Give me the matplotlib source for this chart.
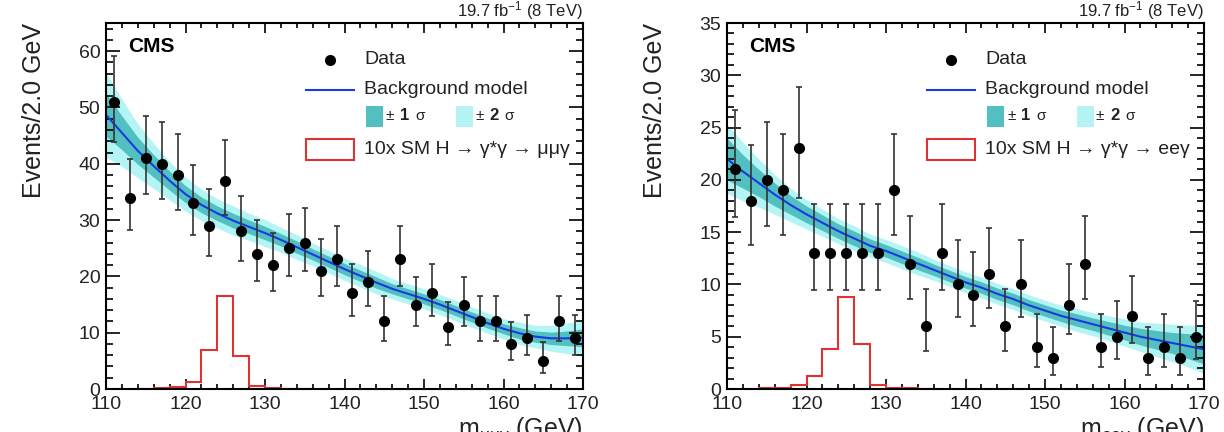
import numpy as np
import matplotlib
matplotlib.use("Agg")
import matplotlib.pyplot as plt
from matplotlib.patches import Rectangle
from matplotlib.lines import Line2D
from matplotlib.ticker import MultipleLocator

plt.rcParams['font.family'] = ['Liberation Sans', 'DejaVu Sans']
plt.rcParams['mathtext.fontset'] = 'custom'
plt.rcParams['mathtext.rm'] = 'Liberation Sans'
plt.rcParams['mathtext.it'] = 'Liberation Sans:italic'
plt.rcParams['mathtext.bf'] = 'Liberation Sans:bold'

# data points (bin centres, counts)
mass = np.arange(111, 170, 2)
data_mumu = [51, 34, 41, 40, 38, 33, 29, 37, 28, 24, 22, 25, 26, 21, 23,
             17, 19, 12, 23, 15, 17, 11, 15, 12, 12, 8, 9, 5, 12, 9]
data_ee = [21, 18, 20, 19, 23, 13, 13, 13, 13, 13, 19, 12, 6, 13, 10,
           9, 11, 6, 10, 4, 3, 8, 12, 4, 5, 7, 3, 4, 3, 5]

# background model, sampled every 2 GeV
bkg_x = np.arange(110, 171, 2)
bkg_mumu = [48.7, 45.5, 42.3, 39.6, 37.0, 34.6, 32.7, 31.2, 29.9, 28.8, 27.7,
            26.5, 25.2, 23.9, 22.6, 21.3, 20.1, 18.9, 17.8, 16.9, 16.0, 15.0,
            13.9, 12.8, 11.7, 10.7, 9.9, 9.3, 9.0, 9.0, 9.1]
sig1_mumu = [3.8, 3.0, 2.4, 2.0, 1.7, 1.5, 1.4, 1.3, 1.3, 1.2, 1.2, 1.1, 1.1,
             1.0, 1.0, 1.0, 1.0, 1.0, 0.9, 0.9, 0.9, 0.9, 0.9, 0.9, 0.9, 0.9,
             1.0, 1.0, 1.1, 1.3, 1.6]
sig2_mumu = [7.5, 6.0, 4.8, 4.0, 3.4, 3.0, 2.8, 2.6, 2.6, 2.4, 2.4, 2.2, 2.2,
             2.0, 2.0, 2.0, 2.0, 2.0, 1.8, 1.8, 1.8, 1.8, 1.8, 1.8, 1.8, 1.8,
             2.0, 2.0, 2.3, 2.7, 3.2]
bkg_ee = [22.0, 20.8, 19.7, 18.6, 17.6, 16.7, 15.9, 15.1, 14.4, 13.7, 13.2,
          12.6, 12.0, 11.4, 10.8, 10.2, 9.7, 9.1, 8.6, 8.0, 7.5, 7.0, 6.6,
          6.2, 5.8, 5.4, 5.0, 4.7, 4.4, 4.1, 3.8]
sig1_ee = [2.0, 1.6, 1.3, 1.1, 0.9, 0.8, 0.75, 0.7, 0.7, 0.65, 0.6, 0.6, 0.6,
           0.55, 0.55, 0.55, 0.55, 0.55, 0.55, 0.55, 0.55, 0.55, 0.6, 0.6,
           0.65, 0.7, 0.8, 0.9, 1.0, 1.2, 1.4]
sig2_ee = [3.3, 2.8, 2.3, 1.9, 1.6, 1.4, 1.3, 1.2, 1.2, 1.1, 1.1, 1.1, 1.1,
           1.0, 1.0, 1.0, 1.0, 1.0, 1.0, 1.0, 1.0, 1.0, 1.1, 1.1, 1.2, 1.3,
           1.4, 1.6, 1.8, 2.0, 2.3]

# 10x SM signal histogram
sig_edges = np.arange(114, 137, 2)
sig_mumu = [0.05, 0.1, 0.3, 1.3, 6.9, 16.5, 5.9, 0.5, 0.1, 0.05, 0.02]
sig_ee = [0.05, 0.1, 0.4, 1.2, 3.8, 8.8, 4.3, 0.4, 0.1, 0.05, 0.02]

W, H = 1224, 432
AX_W, AX_H = 477, 366


def poisson_err(n):
    n = np.asarray(n, float)
    lo = n * (1 - 1 / (9 * n) - 1 / (3 * np.sqrt(n))) ** 3
    m = n + 1
    hi = m * (1 - 1 / (9 * m) + 1 / (3 * np.sqrt(m))) ** 3
    return n - lo, hi - n


def panel(left, counts, bkg, s1, s2, sig, ymax, ymaj, ymin, channel, sublabel):
    ax = fig.add_axes([left / W, 1 - 389 / H, AX_W / W, AX_H / H])
    bkg = np.array(bkg); s1 = np.array(s1); s2 = np.array(s2)
    ax.fill_between(bkg_x, bkg - s2, bkg + s2, color='#b4f4f4', lw=0, zorder=1)
    ax.fill_between(bkg_x, bkg - s1, bkg + s1, color='#52c0c0', lw=0, zorder=1.1)
    ax.plot(bkg_x, bkg, color='#1a3ae0', lw=1.5, zorder=2)
    ax.stairs(sig, sig_edges, color='#dd3333', lw=1.5, zorder=2)
    lo, hi = poisson_err(counts)
    ax.errorbar(mass, counts, yerr=[lo, hi], fmt='o', color='black', ms=7,
                ecolor='#333333', elinewidth=1.2, capsize=2, capthick=1.2,
                zorder=3, clip_on=False)

    ax.set_xlim(110, 170)
    ax.set_ylim(0, ymax)
    ax.xaxis.set_major_locator(MultipleLocator(10))
    ax.xaxis.set_minor_locator(MultipleLocator(2))
    ax.yaxis.set_major_locator(MultipleLocator(ymaj))
    ax.yaxis.set_minor_locator(MultipleLocator(ymin))
    ax.tick_params(which='both', direction='in', top=True, right=True,
                   width=1.2, labelsize=14)
    ax.tick_params(axis='x', which='major', length=7, pad=5)
    ax.tick_params(axis='x', which='minor', length=3.6)
    ax.tick_params(axis='y', which='major', length=10, pad=4)
    ax.tick_params(axis='y', which='minor', length=5)
    for sp in ax.spines.values():
        sp.set_linewidth(1.5)
    for lab in ax.get_xticklabels() + ax.get_yticklabels():
        lab.set_color('#222222')

    def fx(dx):
        return dx / AX_W

    def fy(dy):
        return 1 - dy / AX_H

    tr = ax.transAxes
    ax.text(fx(22), fy(23), 'CMS', transform=tr, fontsize=15,
            fontweight='bold', va='center', ha='left')
    ax.text(1, 1 + 7 / AX_H, r'19.7 fb$^{\mathregular{-1}}$ (8 TeV)',
            transform=tr, fontsize=12, ha='right', va='baseline', color='#222222')

    # legend
    ax.add_line(Line2D([fx(224)], [fy(37)], marker='o', ms=7, color='black',
                       transform=tr))
    ax.text(fx(258), fy(37), 'Data', transform=tr, fontsize=14, va='center',
            color='#222222')
    ax.add_line(Line2D([fx(200), fx(248)], [fy(67), fy(67)], color='#1a3ae0',
                       lw=1.5, transform=tr))
    ax.text(fx(258), fy(67), 'Background model', transform=tr, fontsize=14,
            va='center', color='#222222')
    ax.add_patch(Rectangle((fx(260), fy(104)), 17 / AX_W, 21 / AX_H,
                           transform=tr, color='#52c0c0', lw=0))
    ax.add_patch(Rectangle((fx(350), fy(104)), 17 / AX_W, 21 / AX_H,
                           transform=tr, color='#b4f4f4', lw=0))
    for x0, num in ((280, '1'), (369, '2')):
        ax.text(fx(x0), fy(93), '±', transform=tr, fontsize=11, va='center',
                color='#222222')
        ax.text(fx(x0 + 14), fy(93), num, transform=tr, fontsize=12,
                fontweight='bold', va='center', color='#222222')
        ax.text(fx(x0 + 29), fy(93), 'σ', transform=tr, fontsize=11,
                va='center', color='#222222')
    ax.add_patch(Rectangle((fx(200), fy(137)), 48 / AX_W, 21 / AX_H,
                           transform=tr, fill=False, ec='#dd3333', lw=1.5))
    ax.text(fx(258), fy(127), '10x SM H → γ*γ → ' + channel, transform=tr,
            fontsize=14, va='center', color='#222222')

    fig.text((left - 72) / W, 1 - 23 / H, 'Events/2.0 GeV', rotation=90,
             ha='center', va='top', fontsize=18, color='#222222')
    fig.text((left + AX_W) / W, 1 - 436 / H,
             r'm$_{\mathregular{' + sublabel + r'}}$ (GeV)',
             ha='right', va='baseline', fontsize=18, color='#222222')
    return ax


fig = plt.figure(figsize=(W / 100, H / 100), dpi=100)
panel(106, data_mumu, bkg_mumu, sig1_mumu, sig2_mumu, sig_mumu, 65, 10, 2,
      'μμγ', r'\mu\mu\gamma')
panel(727, data_ee, bkg_ee, sig1_ee, sig2_ee, sig_ee, 35, 5, 1,
      'eeγ', r'ee\gamma')
fig.savefig('out.png', dpi=100)
